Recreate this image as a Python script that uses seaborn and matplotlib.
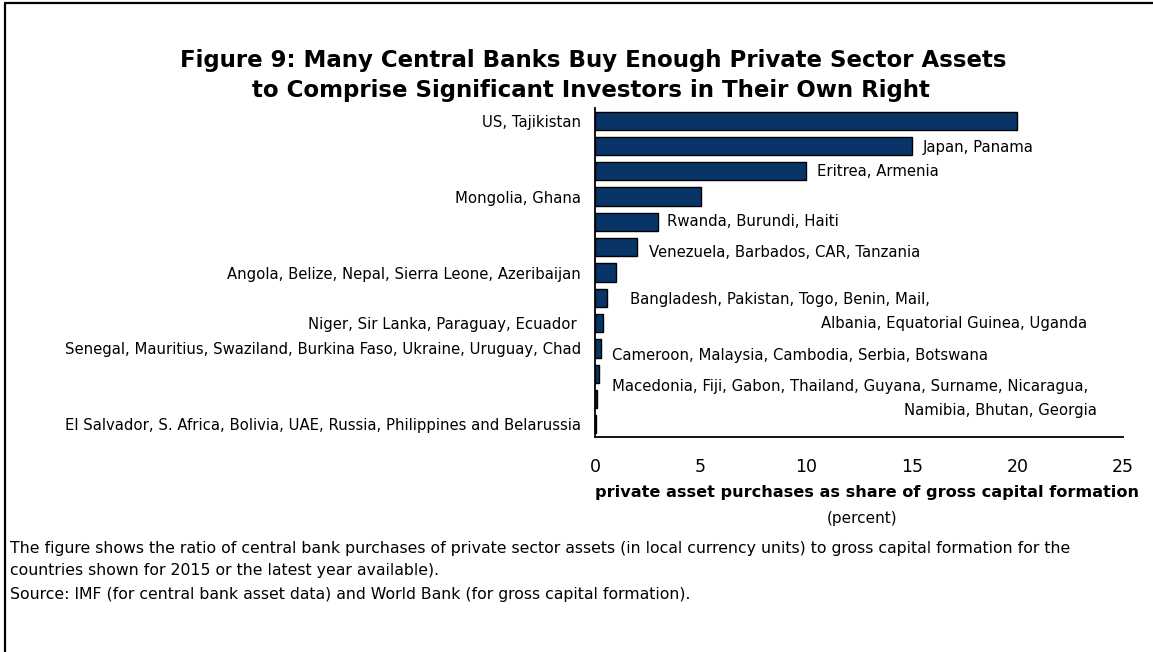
import matplotlib
matplotlib.use("Agg")
import matplotlib.pyplot as plt
import numpy as np
import seaborn as sns
from matplotlib.lines import Line2D

# rows from top to bottom
groups = ["US, Tajikistan", "Japan, Panama", "Eritrea, Armenia", "Mongolia, Ghana",
          "Rwanda, Burundi, Haiti", "Venezuela, Barbados, CAR, Tanzania",
          "Angola, Belize, Nepal, Sierra Leone, Azeribaijan",
          "Bangladesh, Pakistan, Togo, Benin, Mail, Albania, Equatorial Guinea, Uganda",
          "Niger, Sir Lanka, Paraguay, Ecuador",
          "Senegal, Mauritius, Swaziland, Burkina Faso, Ukraine, Uruguay, Chad",
          "Cameroon, Malaysia, Cambodia, Serbia, Botswana",
          "Macedonia, Fiji, Gabon, Thailand, Guyana, Surname, Nicaragua, Namibia, Bhutan, Georgia",
          "El Salvador, S. Africa, Bolivia, UAE, Russia, Philippines and Belarussia"]
values = [20, 15, 10, 5, 3, 2, 1, 0.55, 0.4, 0.3, 0.2, 0.1, 0.05]

# labels written left of the axis (blank where the label sits beside the bar)
left_labels = ["US, Tajikistan", "", "", "Mongolia, Ghana", "", "",
               "Angola, Belize, Nepal, Sierra Leone, Azeribaijan", "",
               "Niger, Sir Lanka, Paraguay, Ecuador ",
               "Senegal, Mauritius, Swaziland, Burkina Faso, Ukraine, Uruguay, Chad",
               "", "", "El Salvador, S. Africa, Bolivia, UAE, Russia, Philippines and Belarussia"]

# labels written to the right of the bars: (text, x, y, align)
right_labels = [("Japan, Panama", 15.5, 1.08, "left"),
                ("Eritrea, Armenia", 10.5, 1.99, "left"),
                ("Rwanda, Burundi, Haiti", 3.4, 4.0, "left"),
                ("Venezuela, Barbados, CAR, Tanzania", 2.55, 5.22, "left"),
                ("Bangladesh, Pakistan, Togo, Benin, Mail,", 1.65, 7.08, "left"),
                ("Albania, Equatorial Guinea, Uganda", 23.3, 8.02, "right"),
                ("Cameroon, Malaysia, Cambodia, Serbia, Botswana", 0.8, 9.28, "left"),
                ("Macedonia, Fiji, Gabon, Thailand, Guyana, Surname, Nicaragua,", 0.8, 10.52, "left"),
                ("Namibia, Bhutan, Georgia", 23.75, 11.45, "right")]

xticks = [0, 5, 10, 15, 20, 25]

sns.set_style("white")
plt.rcParams["font.family"] = ["DejaVu Sans"]
plt.rcParams["text.color"] = "black"
plt.rcParams["xtick.color"] = "black"
plt.rcParams["ytick.color"] = "black"
plt.rcParams["axes.labelcolor"] = "black"

W, H = 1153, 652
fig = plt.figure(figsize=(W / 100, H / 100), dpi=100)
ax = fig.add_axes([595 / W, 1 - 437 / H, (1123 - 595) / W, (437 - 108) / H])

sns.barplot(x=values, y=groups, orient="h", color="#083468", saturation=1,
            width=0.72, edgecolor="black", linewidth=1, ax=ax)

ax.set_xlim(0, 25)
ax.set_xticks(xticks)
ax.set_xticklabels([str(t) for t in xticks], fontsize=12.5)
ax.tick_params(axis="x", direction="out", length=6, width=1.2, pad=9)

n = len(groups)
ax.set_yticks(np.arange(n + 1) - 0.5)
ax.set_yticklabels([])
ax.set_yticks(np.arange(n), minor=True)
ax.set_yticklabels(left_labels, minor=True, fontsize=10.7)
ax.tick_params(axis="y", which="major", direction="inout", length=7, width=1.2)
ax.tick_params(axis="y", which="minor", length=0, pad=10)
ax.set_ylim(n - 0.5, -0.5)
ax.set_ylabel("")

for s in ["top", "right"]:
    ax.spines[s].set_visible(False)
for s in ["left", "bottom"]:
    ax.spines[s].set_color("black")
    ax.spines[s].set_linewidth(1.3)

for txt, x, y, ha in right_labels:
    ax.text(x, y, txt, ha=ha, va="center", fontsize=10.7)

ax.set_xlabel("")
fig.text(867 / W, 1 - 493 / H, "private asset purchases as share of gross capital formation",
         ha="center", va="center", fontsize=11.6, fontweight="bold")
fig.text(862 / W, 1 - 518 / H, "(percent)", ha="center", va="center", fontsize=11)

fig.text(593 / W, 1 - 60 / H, "Figure 9: Many Central Banks Buy Enough Private Sector Assets",
         ha="center", va="center", fontsize=16.5, fontweight="bold")
fig.text(591 / W, 1 - 90 / H, "to Comprise Significant Investors in Their Own Right",
         ha="center", va="center", fontsize=16.5, fontweight="bold")

notes = ["The figure shows the ratio of central bank purchases of private sector assets (in local currency units) to gross capital formation for the",
         "countries shown for 2015 or the latest year available).",
         "Source: IMF (for central bank asset data) and World Bank (for gross capital formation)."]
for i, line in enumerate(notes):
    fig.text(10 / W, 1 - (548 + 23 * i) / H, line, ha="left", va="center", fontsize=11.3)

# frame round the figure (top and left edges visible)
fig.add_artist(Line2D([5 / W, 5 / W], [0, 1 - 3 / H], color="black", lw=1.6))
fig.add_artist(Line2D([5 / W, 1], [1 - 3 / H, 1 - 3 / H], color="black", lw=1.6))

fig.savefig("out.png", dpi=100)
